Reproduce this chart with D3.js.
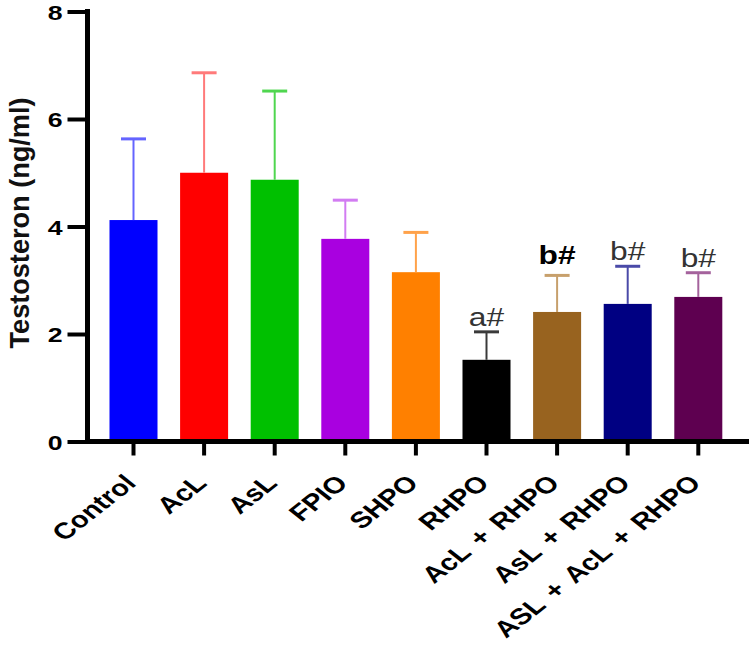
<!DOCTYPE html>
<html><head><meta charset="utf-8">
<script src="https://cdn.jsdelivr.net/npm/d3@7"></script>
<style>html,body{margin:0;padding:0;background:#fff;}svg{display:block;}</style>
</head><body>
<svg id="chart" width="749" height="646"></svg>
<script>
const categories = ["Control","AcL","AsL","FPIO","SHPO","RHPO","AcL + RHPO","AsL + RHPO","ASL + AcL + RHPO"];
const means = [4.12, 5.00, 4.87, 3.77, 3.15, 1.52, 2.41, 2.56, 2.69];
const sds = [1.51, 1.86, 1.65, 0.72, 0.74, 0.52, 0.68, 0.70, 0.45];
const annotations = ["","","","","","a#","b#","b#","b#"];
const yTicks = [0,2,4,6,8];
const barColors = ["#0000ff","#ff0000","#00c000","#a900e0","#ff8000","#000000","#98631f","#000082","#5e0050"];
const errColors = ["#6464ff","#ff7a7a","#4fd64f","#d27cf2","#ffa24a","#3a3a3a","#c7a06c","#4a4aa8","#a4629c"];
const yTitle = "Testosteron (ng/ml)";

const SX = 1.27; // horizontal stretch of the picture's text
const FONT = "Liberation Sans, Arial, sans-serif";
const svg = d3.select("#chart");
const x0 = 87.5, yBase = 441.5;
const y = d3.scaleLinear().domain([0, 8]).range([yBase, 11.5]);
const x = d3.scaleBand().domain(categories).range([98.2, 733.6]).paddingInner(0.32).paddingOuter(0.16);

// bars
svg.append("g").selectAll("rect").data(categories).join("rect")
  .attr("x", d => x(d)).attr("width", x.bandwidth())
  .attr("y", (d,i) => y(means[i])).attr("height", (d,i) => y(0) - y(means[i]))
  .attr("fill", (d,i) => barColors[i]);

// error bars
const eg = svg.append("g");
categories.forEach((d,i) => {
  const cx = x(d) + x.bandwidth()/2;
  eg.append("line").attr("x1", cx).attr("x2", cx).attr("y1", y(means[i])).attr("y2", y(means[i]+sds[i]))
    .attr("stroke", errColors[i]).attr("stroke-width", 2);
  eg.append("line").attr("x1", cx-12.5).attr("x2", cx+12.5).attr("y1", y(means[i]+sds[i])).attr("y2", y(means[i]+sds[i]))
    .attr("stroke", errColors[i]).attr("stroke-width", 3);
});

// annotations
svg.append("g").selectAll("text").data(categories).join("text")
  .attr("transform", (d,i) => `translate(${x(d)+x.bandwidth()/2},${y(means[i]+sds[i]) - (i===6?11:6)}) scale(${SX},1)`)
  .attr("text-anchor", "middle")
  .attr("font-family", FONT)
  .attr("font-size", 25)
  .attr("font-weight", (d,i) => i===6 ? "bold" : "normal")
  .attr("fill", (d,i) => i===6 ? "#000" : "#333")
  .text((d,i) => annotations[i]);

// y axis
const yAxis = svg.append("g").attr("transform", `translate(${x0},0)`)
  .call(d3.axisLeft(y).tickValues(yTicks).tickSize(20).tickSizeOuter(0).tickFormat(d3.format("d")));
yAxis.select(".domain").attr("stroke", "#000").attr("stroke-width", 5).attr("d", `M0,${y(8)-2.5}V${yBase+2.5}`);
yAxis.selectAll(".tick line").attr("stroke", "#000").attr("stroke-width", 4);
yAxis.selectAll(".tick text")
  .attr("x", null).attr("dy", null)
  .attr("transform", `translate(-25,7.5) scale(${SX},1)`)
  .attr("font-family", FONT).attr("font-size", 21).attr("font-weight", "bold").attr("fill", "#000");

// x axis
const xAxis = svg.append("g").attr("transform", `translate(0,${yBase})`)
  .call(d3.axisBottom(x).tickSize(14).tickSizeOuter(0));
xAxis.select(".domain").attr("stroke", "#000").attr("stroke-width", 5).attr("d", `M${x0-2.5},0H752`);
xAxis.selectAll(".tick line").attr("stroke", "#000").attr("stroke-width", 4);
xAxis.selectAll(".tick text")
  .attr("y", null).attr("dy", null)
  .attr("text-anchor", "end")
  .attr("transform", `translate(4,43) scale(${SX},1) rotate(-45)`)
  .attr("font-family", FONT).attr("font-size", 23).attr("font-weight", "bold").attr("fill", "#000")
  .attr("word-spacing", 3);

// y title
svg.append("text")
  .attr("transform", `translate(29,223) scale(1.18,1) rotate(-90)`)
  .attr("text-anchor", "middle")
  .attr("font-family", FONT).attr("font-size", 23).attr("font-weight", "bold")
  .attr("textLength", 251).attr("lengthAdjust", "spacingAndGlyphs")
  .attr("fill", "#111")
  .text(yTitle);
</script>
</body></html>
